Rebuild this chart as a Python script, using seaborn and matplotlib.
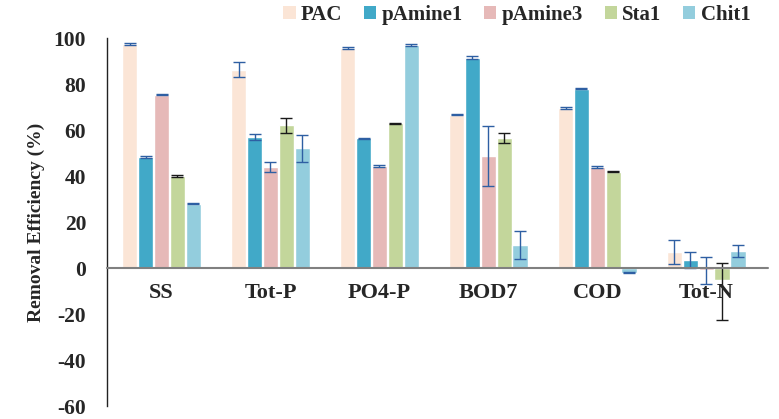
import numpy as np
import pandas as pd
import matplotlib
matplotlib.use("Agg")
import matplotlib.pyplot as plt
import seaborn as sns
from matplotlib.patches import Patch

categories = ["SS", "Tot-P", "PO4-P", "BOD7", "COD", "Tot-N"]
series = ["PAC", "pAmine1", "pAmine3", "Sta1", "Chit1"]

pac = [97.4, 86.2, 95.7, 66.7, 69.6, 6.8]
pamine1 = [48.3, 57.0, 56.4, 91.5, 78.0, 3.4]
pamine3 = [75.4, 44.0, 44.4, 48.7, 43.9, -1.0]
sta1 = [40.1, 62.1, 63.0, 56.4, 41.9, -5.0]
chit1 = [28.0, 52.0, 97.0, 10.0, -2.0, 7.3]

# error bars (lower, upper)
pac_err_lo = [0.3, 3.3, 0.3, 0.3, 0.3, 5.2]
pac_err_hi = [0.3, 3.3, 0.3, 0.3, 0.3, 5.2]
pamine1_err_lo = [0.3, 1.5, 0.3, 0.6, 0.3, 3.5]
pamine1_err_hi = [0.3, 1.5, 0.3, 0.6, 0.3, 3.5]
pamine3_err_lo = [0.3, 2.2, 0.3, 12.9, 0.3, 6.0]
pamine3_err_hi = [0.3, 2.2, 0.3, 12.9, 0.3, 6.0]
sta1_err_lo = [0.3, 3.2, 0.3, 2.2, 0.3, 17.4]
sta1_err_hi = [0.3, 3.2, 0.3, 2.2, 0.3, 7.2]
chit1_err_lo = [0.3, 5.8, 0.3, 6.0, 0.3, 2.6]
chit1_err_hi = [0.3, 5.8, 0.3, 6.0, 0.3, 2.6]

colors = ["#fbe5d6", "#41a9c8", "#e6b9b8", "#c3d69b", "#93cddd"]
err_colors = ["#2e5fa3", "#2e5fa3", "#2e5fa3", "#1a1a1a", "#2e5fa3"]

values = [pac, pamine1, pamine3, sta1, chit1]
errs = [(pac_err_lo, pac_err_hi), (pamine1_err_lo, pamine1_err_hi),
        (pamine3_err_lo, pamine3_err_hi), (sta1_err_lo, sta1_err_hi),
        (chit1_err_lo, chit1_err_hi)]

df = pd.DataFrame({
    "category": np.tile(categories, len(series)),
    "series": np.repeat(series, len(categories)),
    "value": np.concatenate(values),
})

sns.set_theme(style="white")
plt.rcParams["font.family"] = ["Liberation Serif", "DejaVu Serif"]
plt.rcParams["font.weight"] = "bold"
plt.rcParams["axes.unicode_minus"] = False

fig = plt.figure(figsize=(7.79, 4.19), dpi=100)
ax = fig.add_axes([0.1374, 0.031, 0.849, 0.878])

sns.barplot(data=df, x="category", y="value", hue="series", order=categories,
            hue_order=series, palette=colors, errorbar=None, width=0.73,
            saturation=1, gap=0.03, ax=ax, legend=False)

for container, (lo, hi), ec in zip(ax.containers, errs, err_colors):
    xs = [p.get_x() + p.get_width() / 2 for p in container]
    ys = [p.get_y() + p.get_height() for p in container]
    ax.errorbar(xs, ys, yerr=[lo, hi], fmt="none", ecolor=ec,
                elinewidth=1.0, capsize=4, capthick=1.0, zorder=3)

ax.set_ylim(-60, 100)
ax.set_xlim(-0.5, 5.57)
ax.set_yticks(np.arange(-60, 101, 20))
ax.tick_params(axis="y", length=0, pad=15, labelsize=15.5)
for lab in ax.get_yticklabels():
    lab.set_fontweight("bold")
ax.set_xticks([])
ax.set_xlabel("")
ax.set_ylabel("Removal Efficiency (%)", fontsize=14, fontweight="bold", labelpad=6)

for side in ["top", "right", "bottom"]:
    ax.spines[side].set_visible(False)
ax.spines["left"].set_color("#222222")
ax.spines["left"].set_linewidth(1.0)
ax.axhline(0, color="#808080", linewidth=1.5, zorder=4, clip_on=False)

for i, cat in enumerate(categories):
    ax.text(i, -11, cat, ha="center", va="center", fontsize=16, fontweight="bold")

handles = [Patch(facecolor=c, edgecolor="none") for c in colors]
fig.legend(handles, series, loc="center right", bbox_to_anchor=(0.982, 0.965),
           ncol=5, frameon=False, handlelength=0.58, handleheight=0.58,
           handletextpad=0.25, columnspacing=1.05, borderpad=0.2,
           prop={"weight": "bold", "size": 15})

fig.savefig("out.png", dpi=100)
